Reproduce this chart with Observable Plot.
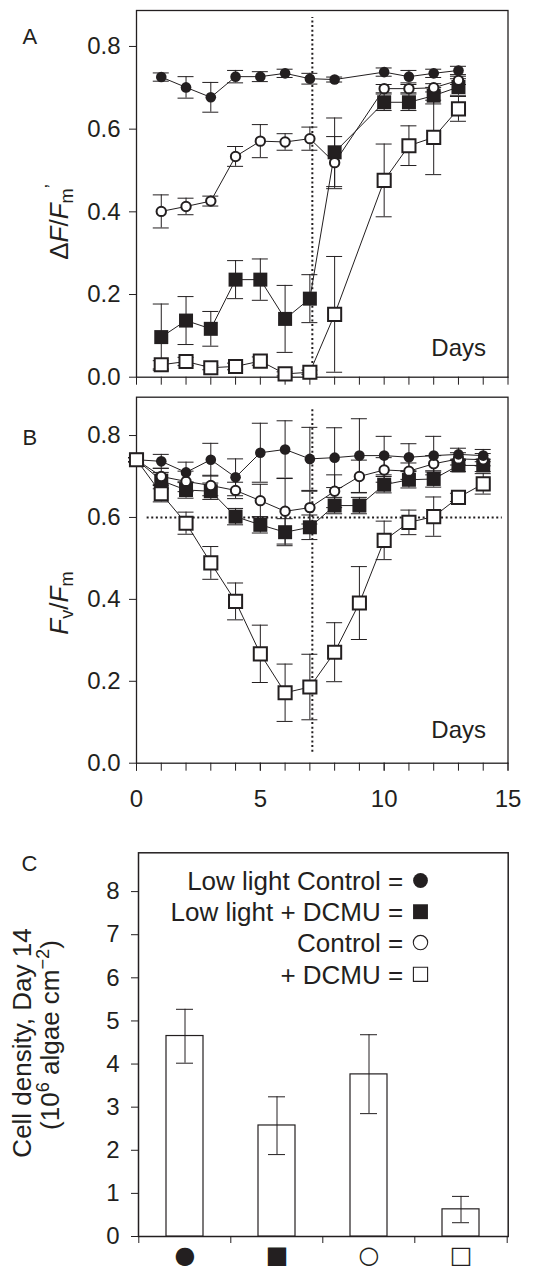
<!DOCTYPE html>
<html><head><meta charset="utf-8">
<script src="https://cdn.jsdelivr.net/npm/d3@7"></script>
<script src="https://cdn.jsdelivr.net/npm/@observablehq/plot@0.6"></script>
<style>
body{margin:0;background:#fff;}
#chart{position:relative;width:544px;height:1266px;}
#chart svg{position:absolute;left:0;overflow:visible;}
</style></head><body><div id="chart"></div>
<script>
// ---------- DATA ----------
const seriesKeys = ["lowCtrl", "lowDcmu", "ctrl", "dcmu"];
const seriesNames = ["Low light Control", "Low light + DCMU", "Control", "+ DCMU"];
const seriesSymbols = ["●", "■", "○", "□"];

// Panel A: effective quantum yield ΔF/Fm'
const daysA = [1, 2, 3, 4, 5, 6, 7, 8, 10, 11, 12, 13];
const aLowCtrl    = [0.726, 0.701, 0.677, 0.727, 0.727, 0.735, 0.722, 0.720, 0.738, 0.727, 0.735, 0.742];
const aLowCtrlErr = [0.010, 0.026, 0.036, 0.015, 0.012, 0.010, 0.013, 0.006, 0.010, 0.015, 0.010, 0.010];
const aLowDcmu    = [0.097, 0.137, 0.117, 0.236, 0.236, 0.141, 0.190, 0.544, 0.665, 0.665, 0.681, 0.702];
const aLowDcmuErr = [0.080, 0.058, 0.042, 0.046, 0.050, 0.081, 0.058, 0.083, 0.020, 0.020, 0.020, 0.020];
const aCtrl       = [0.401, 0.413, 0.426, 0.534, 0.571, 0.569, 0.577, 0.519, 0.698, 0.698, 0.700, 0.718];
const aCtrlErr    = [0.040, 0.020, 0.012, 0.024, 0.040, 0.020, 0.028, 0.063, 0.010, 0.010, 0.010, 0.010];
const aDcmu       = [0.030, 0.038, 0.023, 0.026, 0.039, 0.008, 0.012, 0.152, 0.476, 0.560, 0.580, 0.649];
const aDcmuErr    = [0.010, 0.010, 0.005, 0.008, 0.010, 0.005, 0.005, 0.140, 0.088, 0.048, 0.090, 0.030];

// Panel B: maximum quantum yield Fv/Fm
const daysB = [0, 1, 2, 3, 4, 5, 6, 7, 8, 9, 10, 11, 12, 13, 14];
const bLowCtrl    = [0.741, 0.737, 0.710, 0.741, 0.698, 0.758, 0.766, 0.743, 0.746, 0.751, 0.751, 0.747, 0.751, 0.754, 0.751];
const bLowCtrlErr = [0.005, 0.017, 0.025, 0.040, 0.045, 0.072, 0.070, 0.077, 0.073, 0.090, 0.047, 0.033, 0.047, 0.015, 0.015];
const bLowDcmu    = [0.741, 0.690, 0.667, 0.664, 0.602, 0.582, 0.564, 0.576, 0.629, 0.629, 0.680, 0.692, 0.694, 0.727, 0.727];
const bLowDcmuErr = [0.005, 0.020, 0.020, 0.020, 0.020, 0.020, 0.033, 0.030, 0.020, 0.020, 0.020, 0.020, 0.020, 0.015, 0.015];
const bCtrl       = [0.741, 0.700, 0.688, 0.678, 0.666, 0.641, 0.615, 0.624, 0.664, 0.700, 0.716, 0.713, 0.731, 0.743, 0.741];
const bCtrlErr    = [0.005, 0.020, 0.025, 0.025, 0.020, 0.040, 0.080, 0.040, 0.040, 0.040, 0.030, 0.020, 0.020, 0.015, 0.015];
const bDcmu       = [0.741, 0.658, 0.586, 0.489, 0.395, 0.267, 0.172, 0.186, 0.271, 0.391, 0.544, 0.588, 0.602, 0.649, 0.682];
const bDcmuErr    = [0.005, 0.020, 0.027, 0.040, 0.045, 0.070, 0.070, 0.080, 0.072, 0.089, 0.047, 0.030, 0.048, 0.010, 0.025];

// Panel C: cell density at day 14 (10^6 algae cm^-2)
const cDensity   = [4.65, 2.575, 3.76, 0.63];
const cDensityLo = [4.02, 1.90, 2.85, 0.32];
const cDensityHi = [5.27, 3.24, 4.68, 0.93];

// reference lines and ticks
const dcmuRemovalDay = 7.1;
const fvfmThreshold = 0.6;
const yTicksAB = [0, 0.2, 0.4, 0.6, 0.8];
const xMinorTicks = d3.range(0, 16);
const xMajorTicks = [0, 5, 10, 15];
const yTicksC = [0, 1, 2, 3, 4, 5, 6, 7, 8];

// ---------- BUILD ----------
const FONT = '"Liberation Sans", Arial, Helvetica, sans-serif';
const INK = "#231f20";

function buildRows(days, vals, errs) {
  const rows = [];
  seriesKeys.forEach((k, s) => {
    days.forEach((d, i) => rows.push({series: k, day: d, v: vals[s][i], lo: vals[s][i] - errs[s][i], hi: vals[s][i] + errs[s][i]}));
  });
  return rows;
}
const rowsA = buildRows(daysA, [aLowCtrl, aLowDcmu, aCtrl, aDcmu], [aLowCtrlErr, aLowDcmuErr, aCtrlErr, aDcmuErr]);
const rowsB = buildRows(daysB, [bLowCtrl, bLowDcmu, bCtrl, bDcmu], [bLowCtrlErr, bLowDcmuErr, bCtrlErr, bDcmuErr]);
const rowsC = seriesSymbols.map((c, i) => ({cat: c, v: cDensity[i], lo: cDensityLo[i], hi: cDensityHi[i]}));

const markerStyle = {
  lowDcmu: {symbol: "square", r: 7.9, fill: INK, stroke: "none"},
  ctrl:    {symbol: "circle", r: 4.7, fill: "white", stroke: INK, strokeWidth: 2},
  lowCtrl: {symbol: "circle", r: 5.3, fill: INK, stroke: "none"},
  dcmu:    {symbol: "square", r: 7.4, fill: "white", stroke: INK, strokeWidth: 2}
};
const drawOrder = ["lowDcmu", "ctrl", "lowCtrl", "dcmu"];

function timePanel(rows, o) {
  const marks = [
    Plot.frame({stroke: INK, strokeWidth: 1.3}),
    Plot.axisY({ticks: yTicksAB, tickSize: 7, tickPadding: 9, tickFormat: d3.format(".1f"), label: null, fontSize: 24}),
    Plot.axisX({ticks: xMinorTicks, tickSize: 8, tickFormat: () => "", label: null}),
    ...o.extra,
    Plot.line(rows, {x: "day", y: "v", z: "series", stroke: INK, strokeWidth: 1}),
    Plot.ruleX(rows, {x: "day", y1: "lo", y2: "hi", stroke: INK, strokeWidth: 1}),
    Plot.ruleY(rows, {y: "hi", x1: "day", x2: "day", insetLeft: -8, insetRight: -8, stroke: INK, strokeWidth: 1}),
    Plot.ruleY(rows, {y: "lo", x1: "day", x2: "day", insetLeft: -8, insetRight: -8, stroke: INK, strokeWidth: 1}),
    ...drawOrder.map(k => Plot.dot(rows.filter(r => r.series === k), {x: "day", y: "v", ...markerStyle[k]})),
    Plot.text(["Days"], {frameAnchor: "bottom-right", textAnchor: "end", lineAnchor: "bottom", dx: -22, dy: o.daysDy, fontSize: 24, fill: INK}),
    Plot.text([o.label], {frameAnchor: "top-left", textAnchor: "start", lineAnchor: "top", dx: -114, dy: o.labelDy, fontSize: 22, fill: INK})
  ];
  return Plot.plot({
    width: 544, height: o.height,
    marginLeft: 136, marginRight: 36.5, marginTop: o.mt, marginBottom: o.mb,
    style: {fontFamily: FONT, fontSize: "24px", color: INK, background: "transparent", overflow: "visible"},
    x: {domain: [0, 15]},
    y: {domain: [0, o.ytop]},
    marks
  });
}

const dotted = {stroke: INK, strokeWidth: 2, strokeDasharray: "2,2.6"};

const svgA = timePanel(rowsA, {
  height: 387, mt: 10, mb: 10.3, ytop: 0.887, label: "A", labelDy: 18, daysDy: -21,
  extra: [Plot.ruleX([dcmuRemovalDay], {y1: 0, y2: 0.87, ...dotted})]
});
const svgB = timePanel(rowsB, {
  height: 425, mt: 9.7, mb: 49.3, ytop: 0.8936, label: "B", labelDy: 32, daysDy: -25,
  extra: [
    Plot.axisX({ticks: xMajorTicks, tickSize: 8, tickPadding: 19, tickFormat: d3.format("d"), label: null, fontSize: 24}),
    Plot.ruleX([dcmuRemovalDay], {y1: 0.027, y2: 0.863, ...dotted}),
    Plot.ruleY([fvfmThreshold], {x1: 0.43, x2: 14.77, ...dotted})
  ]
});

// legend: labels as multi-line text, symbols as dots
const legendText = seriesNames.map(n => `${n} =`).join("\n");
const legendSym = [
  {symbol: "circle", r: 7.4, fill: INK, stroke: "none"},
  {symbol: "square", r: 8.4, fill: INK, stroke: "none"},
  {symbol: "circle", r: 7.2, fill: "white", stroke: INK, strokeWidth: 1.1},
  {symbol: "square", r: 8.0, fill: "white", stroke: INK, strokeWidth: 1.1}
];
const legendRowDy = [27.7, 58.9, 89.8, 121.5];

const svgC = Plot.plot({
  width: 544, height: 454,
  marginLeft: 138, marginRight: 36.3, marginTop: 40.3, marginBottom: 30,
  style: {fontFamily: FONT, fontSize: "24px", color: INK, background: "transparent", overflow: "visible"},
  x: {domain: seriesSymbols, paddingInner: 0.6, paddingOuter: 0.3},
  y: {domain: [0, 8.9]},
  marks: [
    Plot.frame({stroke: INK, strokeWidth: 1.5}),
    Plot.axisY({ticks: yTicksC, tickSize: 7, tickPadding: 12, tickFormat: d3.format("d"), label: null, fontSize: 24}),
    Plot.axisX({tickSize: 0, tickPadding: 9, fontSize: 24, label: null, fontFamily: "DejaVu Sans"}),
    Plot.ruleX(seriesSymbols, {x: d => d, y1: 0, y2: 0, insetTop: 7, dx: -46.2, stroke: INK}),
    Plot.ruleX(seriesSymbols.slice(-1), {x: d => d, y1: 0, y2: 0, insetTop: 7, dx: 46.2, stroke: INK}),
    Plot.barY(rowsC, {x: "cat", y: "v", fill: "white", stroke: INK, strokeWidth: 1.2}),
    Plot.ruleX(rowsC, {x: "cat", y1: "lo", y2: "hi", stroke: INK, strokeWidth: 1}),
    Plot.ruleY(rowsC, {x1: "cat", x2: "cat", y: "hi", insetLeft: 10, insetRight: 10, stroke: INK, strokeWidth: 1}),
    Plot.ruleY(rowsC, {x1: "cat", x2: "cat", y: "lo", insetLeft: 10, insetRight: 10, stroke: INK, strokeWidth: 1}),
    Plot.text([legendText], {frameAnchor: "top-right", textAnchor: "end", lineAnchor: "top", dx: -105, dy: 14.8, lineHeight: 1.204, fontSize: 26, fill: INK}),
    ...legendSym.map((s, i) => Plot.dot([seriesSymbols[i]], {frameAnchor: "top-right", dx: -87.7, dy: legendRowDy[i], ...s})),
    Plot.text(["C"], {frameAnchor: "top-left", textAnchor: "start", lineAnchor: "top", dx: -117, dy: 3, fontSize: 22, fill: INK})
  ]
});

const chart = document.getElementById("chart");
[[svgA, 0], [svgB, 387], [svgC, 812]].forEach(([s, top]) => { s.style.top = top + "px"; chart.appendChild(s); });

// rotated y-axis titles with italic / sub / superscripts
function title(svg, x, y, parts, size = 25) {
  const t = d3.select(svg).append("text")
    .attr("transform", `translate(${x},${y}) rotate(-90)`)
    .attr("text-anchor", "middle").attr("font-family", FONT).attr("font-size", size).attr("fill", INK);
  parts.forEach(p => {
    const s = t.append("tspan").text(p.t);
    if (p.i) s.attr("font-style", "italic");
    if (p.sub) s.attr("baseline-shift", "-25%").attr("font-size", size * 0.7);
    if (p.sup) s.attr("baseline-shift", "super").attr("font-size", size * 0.7);
  });
}
title(svgA, 68, 222, [{t: "Δ"}, {t: "F", i: 1}, {t: "/"}, {t: "F", i: 1}, {t: "m", sub: 1}, {t: "’", sup: 1}], 26);
title(svgB, 68, 603 - 387, [{t: "F", i: 1}, {t: "v", sub: 1}, {t: "/"}, {t: "F", i: 1}, {t: "m", sub: 1}], 26);
title(svgC, 31, 1043 - 812, [{t: "Cell density, Day 14"}], 26);
title(svgC, 59, 1035 - 812, [{t: "(10"}, {t: "6", sup: 1}, {t: " algae cm"}, {t: "−2", sup: 1}, {t: ")"}], 26);
</script></body></html>
